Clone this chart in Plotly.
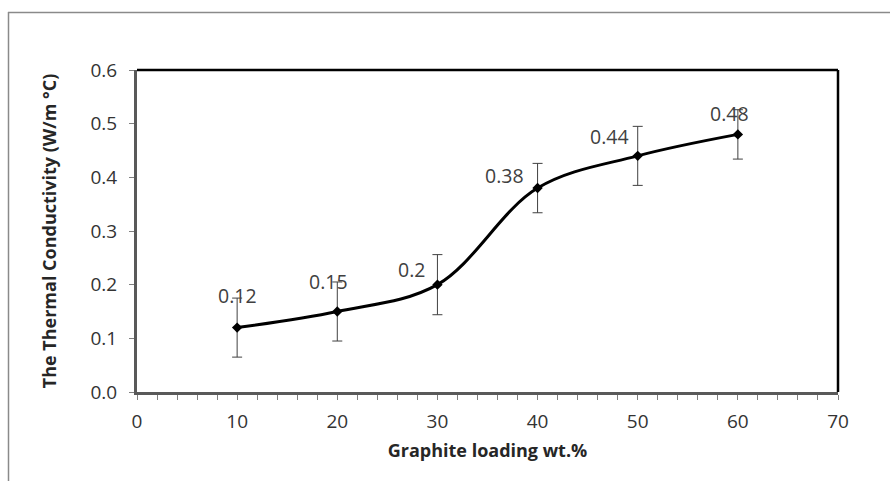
import plotly.graph_objects as go

# Data
loading = [10, 20, 30, 40, 50, 60]
conductivity = [0.12, 0.15, 0.20, 0.38, 0.44, 0.48]
error = [0.055, 0.055, 0.056, 0.046, 0.055, 0.046]
x_title = "Graphite loading wt.%"
y_title = "The Thermal Conductivity (W/m °C)"

# label offsets in px (style)
label_dx = [0, -9, -26, -33, -28, -8]
label_dy = [32, 30, 15, 13, 19, 21]

W, H = 890, 481
L, R, T, B = 137, 838, 70, 392

fig = go.Figure()
fig.add_trace(go.Scatter(
    x=loading, y=conductivity, mode="lines+markers",
    line=dict(color="black", width=3, shape="spline", smoothing=1.0),
    marker=dict(symbol="diamond", size=8, color="black"),
    error_y=dict(type="data", array=error, visible=True, color="#404040", thickness=1, width=5),
    showlegend=False, cliponaxis=False,
))

for xv, yv, dx, dy in zip(loading, conductivity, label_dx, label_dy):
    fig.add_annotation(x=xv, y=yv, text=f"{yv:g}", showarrow=False,
                       xshift=dx, yshift=dy,
                       font=dict(family="Open Sans", size=19.5, color="#404040"))

pw, ph = R - L, B - T
def px_x(p):
    return (p - L) / pw
def px_y(p):
    return (B - p) / ph

shapes = [
    dict(type="line", xref="paper", yref="paper", x0=0, x1=1, y0=1, y1=1, line=dict(color="black", width=2.5)),
    dict(type="line", xref="paper", yref="paper", x0=1, x1=1, y0=0, y1=1, line=dict(color="black", width=2.5)),
    dict(type="line", xref="paper", yref="paper", x0=px_x(8), x1=px_x(895), y0=px_y(12.5), y1=px_y(12.5), line=dict(color="#8a8a8a", width=1.5)),
    dict(type="line", xref="paper", yref="paper", x0=px_x(8.5), x1=px_x(8.5), y0=px_y(12), y1=px_y(490), line=dict(color="#8a8a8a", width=1.5)),
]

fig.update_layout(
    width=W, height=H, autosize=False,
    margin=dict(l=L, r=W - R, t=T, b=H - B),
    paper_bgcolor="white", plot_bgcolor="white",
    shapes=shapes,
    xaxis=dict(range=[0, 70], dtick=10, tick0=0, showgrid=False, zeroline=False,
               showline=True, linecolor="#595959", linewidth=3,
               ticks="outside", ticklen=5, tickcolor="#7f7f7f", tickwidth=1,
               minor=dict(dtick=2, ticks="outside", ticklen=5, tickcolor="#7f7f7f", tickwidth=1),
               ticklabelstandoff=5,
               tickfont=dict(family="Open Sans", size=19, color="#333333"),
               title=dict(text=x_title, font=dict(family="Open Sans", size=18, color="#262626", weight="bold"), standoff=12)),
    yaxis=dict(range=[0, 0.6], dtick=0.1, tick0=0, tickformat=".1f", showgrid=False, zeroline=False,
               showline=True, linecolor="#595959", linewidth=3,
               ticks="outside", ticklen=5, tickcolor="#7f7f7f", tickwidth=1,
               ticklabelstandoff=8,
               tickfont=dict(family="Open Sans", size=19, color="#333333"),
               title=dict(text=y_title, font=dict(family="Open Sans", size=18, color="#262626", weight="bold"), standoff=30)),
)

fig.write_html("out.html")
